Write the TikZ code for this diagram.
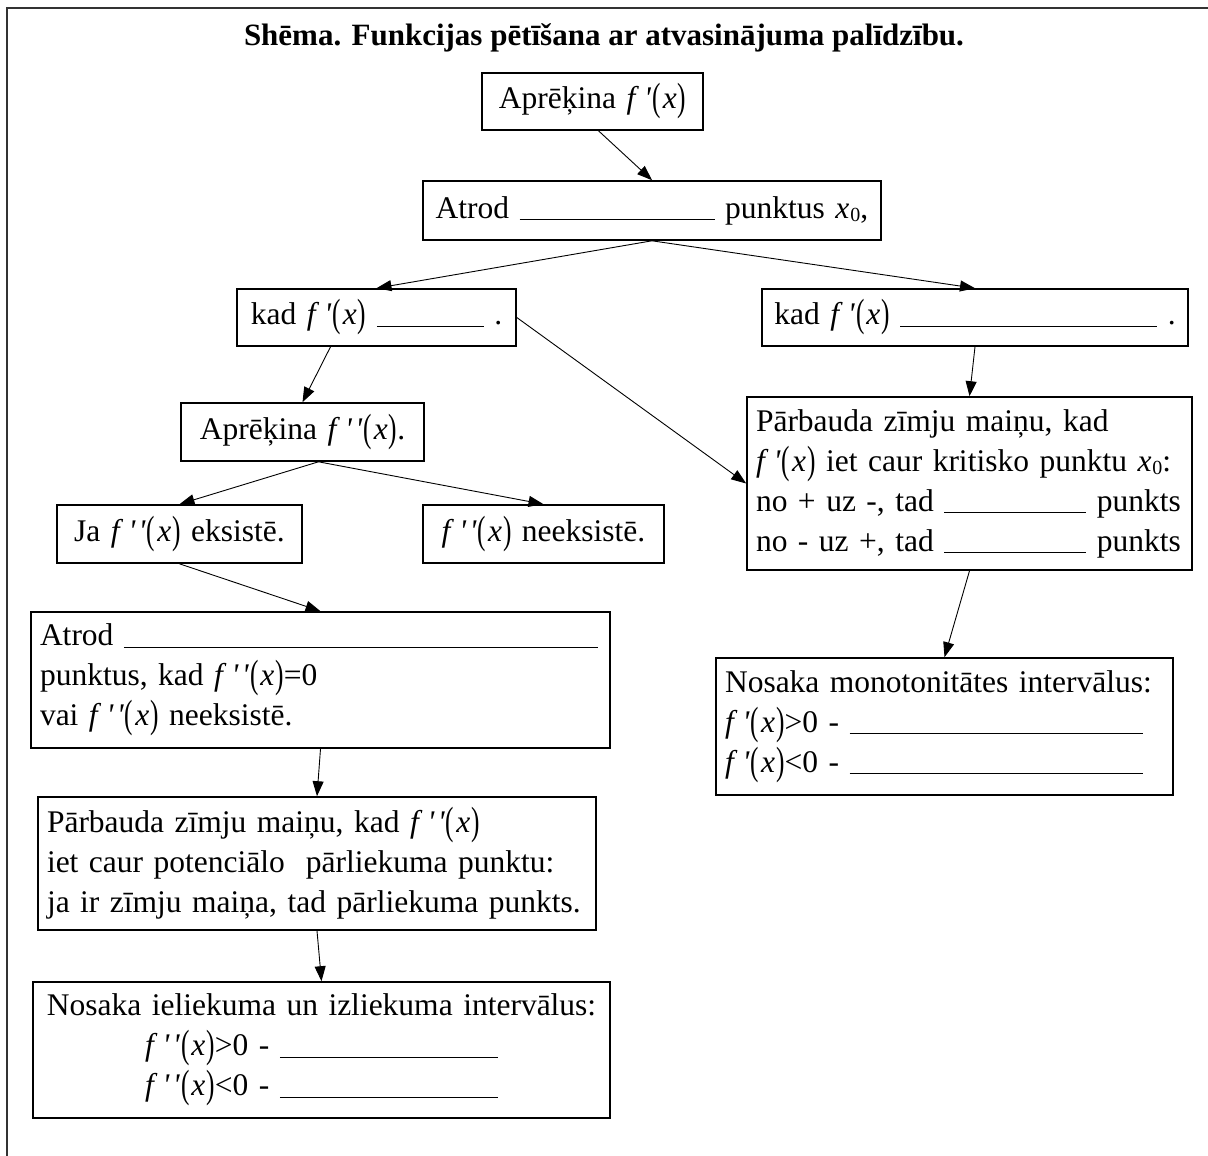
\documentclass[tikz,border=0pt]{standalone}
\usepackage{fontspec}
\setmainfont{Liberation Serif}
\usepackage{graphicx}
\usepackage{tikz}
\usetikzlibrary{arrows.meta}
\newcommand{\pr}{\textit{\textquotesingle}}
\newcommand{\lp}{\raisebox{-2pt}{\scalebox{0.8}[1.25]{(}}}
\newcommand{\rp}{\raisebox{-2pt}{\scalebox{0.8}[1.25]{)}}}
\newcommand{\fx}[1]{\textit{f}\,#1\kern1pt\lp\kern2pt\textit{x}\kern1pt\rp}
\newcommand{\fp}{\fx{\pr}}
\newcommand{\fpp}{\fx{\pr\kern3pt\pr}}
\newcommand{\xnull}{\textit{x}\kern1pt\raisebox{-3pt}{\fontsize{20}{20}\selectfont 0}}
\newcommand{\blank}[1]{\rule[-2pt]{#1pt}{1.2pt}}

\begin{document}
\begin{tikzpicture}[x=1pt,y=1pt,yscale=-1,
	box/.style={draw, line width=1.6pt, inner xsep=9pt, inner ysep=3pt, font=\fontsize{31.5}{40}\selectfont},
	arr/.style={-{Triangle[length=15pt,width=11pt]}, line width=0.9pt}]
	\useasboundingbox (0,0) rectangle (1208,1156);
	%Shape: frame
	\draw [line width=1.5pt, black!80] (7,1156) -- (7,8) -- (1208,8);

	% Text Node
	\node (title) at (604,38) [font=\fontsize{31}{36}\selectfont\bfseries] {Shēma. Funkcijas pētīšana ar atvasinājuma palīdzību.};

	% Text Node
	\node (aprA) at (592.5,101.5) [box, text width=203pt, minimum height=57pt, align=center] {Aprēķina \fp};
	% Text Node
	\node (atrodA) at (652,210.5) [box, text width=440pt, minimum height=59pt, align=center] {Atrod \blank{195} punktus \xnull,};
	% Text Node
	\node (kadA) at (376.5,317.5) [box, text width=261pt, minimum height=57pt, align=center] {kad \fp\ \blank{107} .};
	% Text Node
	\node (kadB) at (975,317.5) [box, text width=408pt, minimum height=57pt, align=center] {kad \fp\ \blank{257} .};
	% Text Node
	\node (aprB) at (302.5,432) [box, text width=225pt, minimum height=58pt, align=center] {Aprēķina \fpp.};
	% Text Node
	\node (eks) at (179.5,534) [box, text width=227pt, minimum height=58pt, align=center] {Ja \fpp\ eksistē.};
	% Text Node
	\node (neeks) at (543.5,534) [box, text width=223pt, minimum height=58pt, align=center] {\fpp\ neeksistē.};
	% Text Node
	\node (parbA) at (969.5,483.5) [box, text width=427pt, minimum height=173pt, align=left] {Pārbauda zīmju maiņu, kad\\\fp\ iet caur kritisko punktu \xnull:\\no + uz -, tad \blank{142} punkts\\no - uz +, tad \blank{142} punkts};
	% Text Node
	\node (atrodB) at (320.5,680) [box, text width=561pt, minimum height=136pt, align=left] {Atrod \blank{474}\\punktus, kad \fpp=0\\vai \fpp\ neeksistē.};
	% Text Node
	\node (parbB) at (317,863.5) [box, text width=540pt, minimum height=133pt, align=left] {Pārbauda zīmju maiņu, kad \fpp\\iet caur potenciālo\ \ pārliekuma punktu:\\ja ir zīmju maiņa, tad pārliekuma punkts.};
	% Text Node
	\node (monot) at (944.5,726.5) [box, text width=439pt, minimum height=137pt, align=left] {Nosaka monotonitātes intervālus:\\\fp>0 - \blank{293}\\\fp<0 - \blank{293}};
	% Text Node
	\node (ieliek) at (321.5,1050) [box, text width=559pt, minimum height=136pt, align=center] {Nosaka ieliekuma un izliekuma intervālus:\\\fpp>0 - \blank{218}\\\fpp<0 - \blank{218}};

	% Arrows
	\draw [arr] ([xshift=6pt]aprA.south) -- (atrodA.north);
	\draw [arr] (atrodA.south) -- (kadA.north);
	\draw [arr] (atrodA.south) -- (kadB.north);
	\draw [arr] ([xshift=-46pt]kadA.south) -- (aprB.north);
	\draw [arr] (kadA.east) -- (parbA.west);
	\draw [arr] ([xshift=16pt]aprB.south) -- (eks.north);
	\draw [arr] ([xshift=16pt]aprB.south) -- (neeks.north);
	\draw [arr] (eks.south) -- (atrodB.north);
	\draw [arr] (kadB.south) -- (parbA.north);
	\draw [arr] (parbA.south) -- (monot.north);
	\draw [arr] (atrodB.south) -- (parbB.north);
	\draw [arr] (parbB.south) -- (ieliek.north);
\end{tikzpicture}
\end{document}
